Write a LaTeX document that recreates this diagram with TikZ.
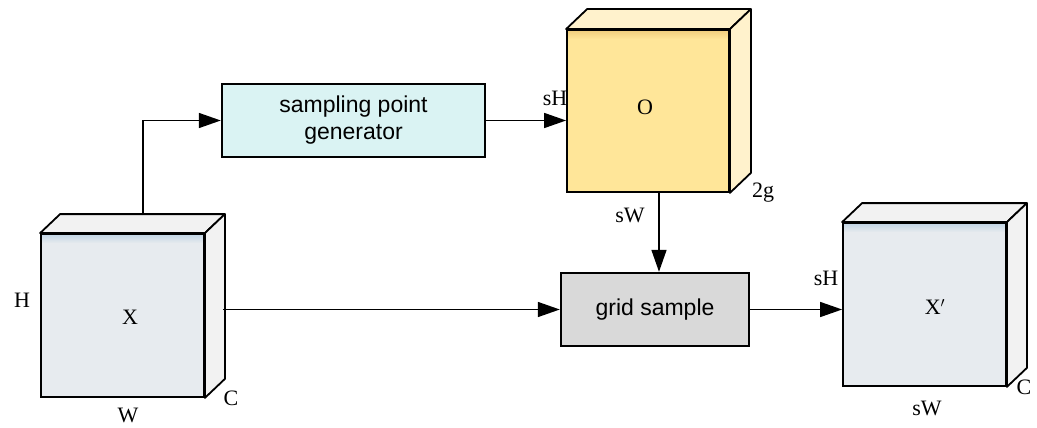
\documentclass[tikz,border=0pt]{standalone}
\usepackage{fontspec}
\setmainfont{Liberation Serif}
\newfontfamily\sansf{Liberation Sans}
\usetikzlibrary{arrows.meta,calc}
\definecolor{xfront}{HTML}{E7EBEF}
\definecolor{xside}{HTML}{F2F2F2}
\definecolor{xtopb}{HTML}{BDD2E4}
\definecolor{ofront}{HTML}{FFE699}
\definecolor{oside}{HTML}{FFF2CC}
\definecolor{otopb}{HTML}{EFCB7A}
\definecolor{spgfill}{HTML}{DAF3F3}
\definecolor{gsfill}{HTML}{D9D9D9}
\tikzset{
  front/.style={draw, line width=1.8pt, inner sep=0pt},
  face/.style={draw, line width=1.8pt, line join=round},
  proc/.style={draw, line width=2.4pt, font=\sansf\fontsize{23}{27}\selectfont, align=center, inner sep=0pt},
  conn/.style={line width=1.5pt, -{Triangle[length=22pt,width=15pt]}},
  lab/.style={font=\fontsize{22}{26}\selectfont, inner sep=0pt},
  topband/.style={path picture={\foreach \i in {0,...,8}{
      \pgfmathsetmacro{\op}{(9-\i)/10}
      \fill[#1, opacity=\op] ($(path picture bounding box.north west)+(0,\i)$) rectangle ($(path picture bounding box.north east)+(0,\i+1)$);}}}
}
\begin{document}
\begin{tikzpicture}[x=1pt,y=-1pt]
\useasboundingbox (0,0) rectangle (1037,428);
% ---- cube X ----
\node[front, fill=xfront, topband=xtopb, minimum width=163pt, minimum height=163pt] (X) at (122.5,315.5) {};
\draw[face, fill=xside] (X.north west) -- ++(20,-19) -- ($(X.north east)+(20,-19)$) -- (X.north east) -- cycle;
\draw[face, fill=xside] (X.north east) -- ++(20,-19) -- ($(X.south east)+(20,-19)$) -- (X.south east) -- cycle;
\node[lab] (Xl) at (130,317) {X};
\node[lab] (XH) at (22,300) {H};
\node[lab] (XW) at (128,415) {W};
\node[lab] (XC) at (231,398) {C};
\coordinate (Xtop) at (143,215);
\coordinate (Xside) at (223,309.5);
% ---- cube O ----
\node[front, fill=ofront, topband=otopb, minimum width=162pt, minimum height=162pt] (O) at (648,111) {};
\draw[face, fill=oside] (O.north west) -- ++(21,-20) -- ($(O.north east)+(21,-20)$) -- (O.north east) -- cycle;
\draw[face, fill=oside] (O.north east) -- ++(21,-20) -- ($(O.south east)+(21,-20)$) -- (O.south east) -- cycle;
\node[lab] (Ol) at (645,107) {O};
\node[lab] (OsH) at (555,98) {sH};
\node[lab] (Og) at (763,193) {2g};
\node[lab] (OsW) at (630,215) {sW};
\coordinate (Obot) at (659,192);
% ---- cube X' ----
\node[front, fill=xfront, topband=xtopb, minimum width=163pt, minimum height=163pt] (Xp) at (924.5,304.5) {};
\draw[face, fill=xside] (Xp.north west) -- ++(20,-19) -- ($(Xp.north east)+(20,-19)$) -- (Xp.north east) -- cycle;
\draw[face, fill=xside] (Xp.north east) -- ++(20,-19) -- ($(Xp.south east)+(20,-19)$) -- (Xp.south east) -- cycle;
\node[lab] (Xpl) at (935,307) {X$'$};
\node[lab] (XpH) at (826,278) {sH};
\node[lab] (XpW) at (927,408) {sW};
\node[lab] (XpC) at (1024,387) {C};
% ---- process boxes ----
\node[proc, fill=spgfill, minimum width=263pt, minimum height=73pt] (spg) at (353.5,120.5) {sampling point\\generator};
\node[proc, fill=gsfill, minimum width=188pt, minimum height=73pt] (gs) at (655,309.5) {grid sample};
% ---- connectors ----
\draw[conn] (Xtop) |- (spg.west);
\draw[conn] (spg.east) -- (spg.east -| O.west);
\draw[conn] (Obot) -- (Obot |- gs.north);
\draw[conn] (Xside) -- (gs.west);
\draw[conn] (gs.east) -- (gs.east -| Xp.west);
\end{tikzpicture}
\end{document}
